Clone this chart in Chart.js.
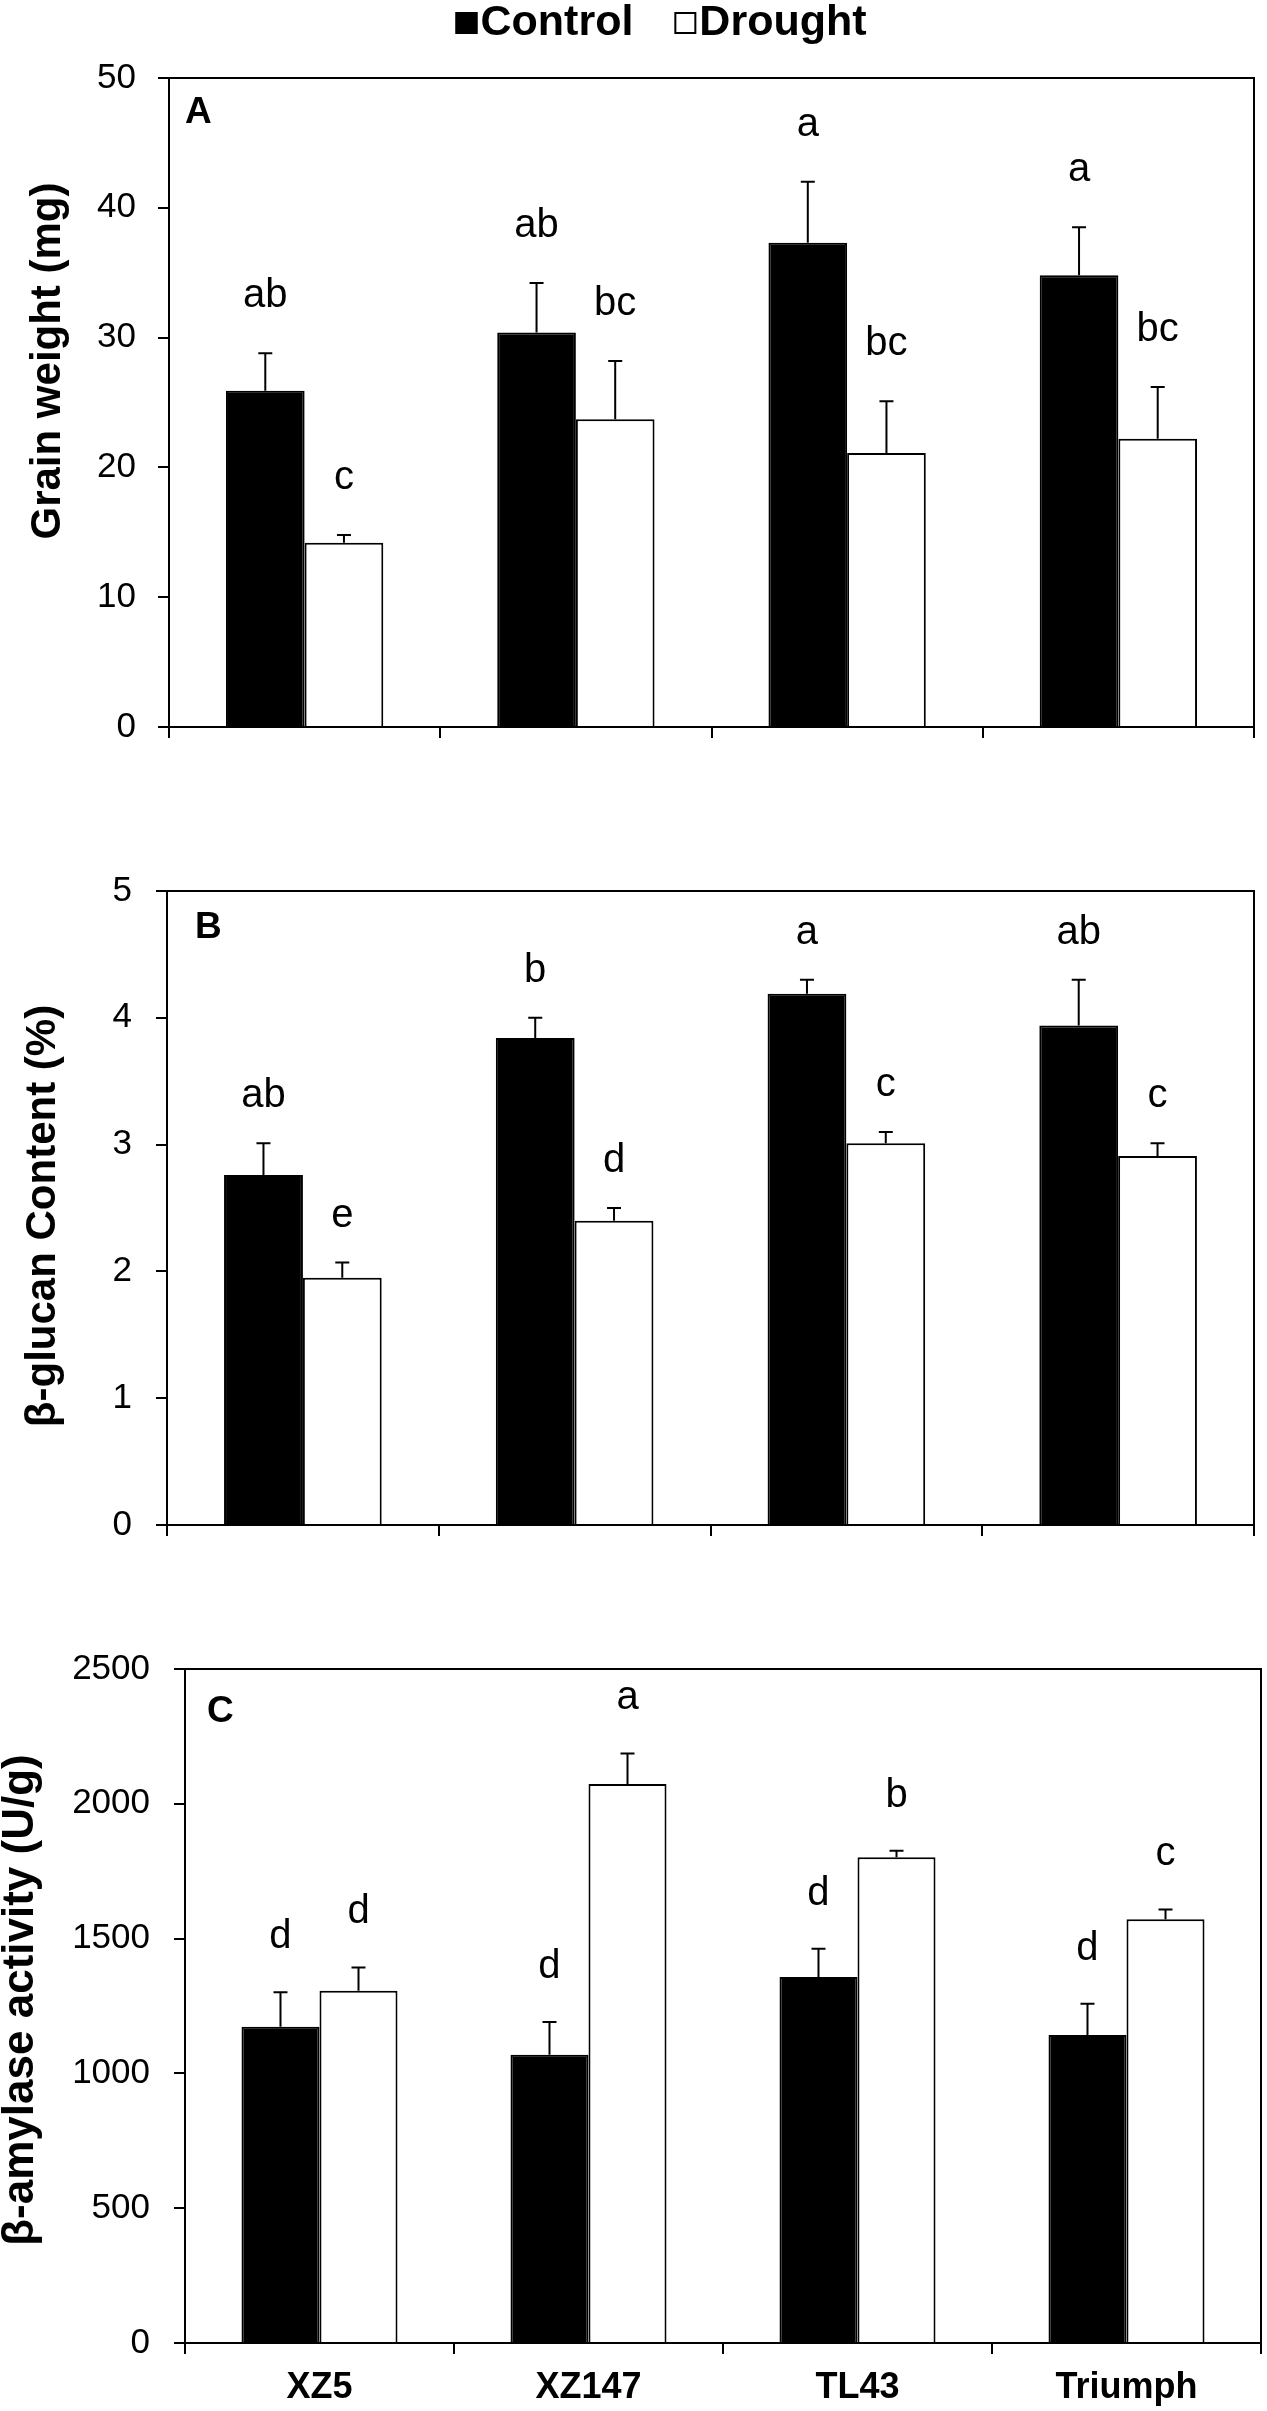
<!DOCTYPE html>
<html>
<head>
<meta charset="utf-8">
<title>Grain weight, β-glucan content and β-amylase activity</title>
<script src="https://cdn.jsdelivr.net/npm/chart.js@4.4.1/dist/chart.umd.min.js"></script>
<style>
    html, body { margin: 0; padding: 0; background: #fff; overflow: hidden; }
    .panel { position: absolute; left: 0; width: 1267px; }
    #panelA { top: 0; height: 770px; }
    #panelB { top: 770px; height: 800px; }
    #panelC { top: 1570px; height: 841px; }
</style>
</head>
<body>
<div class="panel" id="panelA"><canvas id="chartA"></canvas></div>
<div class="panel" id="panelB"><canvas id="chartB"></canvas></div>
<div class="panel" id="panelC"><canvas id="chartC"></canvas></div>
<script>
var varieties = ['XZ5', 'XZ147', 'TL43', 'Triumph'];
var seriesNames = ['Control', 'Drought'];

// A - grain weight (mg)
var weightControl = [25.9, 30.4, 37.3, 34.8];
var weightControlErr = [2.9, 3.8, 4.7, 3.7];
var weightControlSig = ['ab', 'ab', 'a', 'a'];
var weightDrought = [14.2, 23.7, 21.1, 22.2];
var weightDroughtErr = [0.6, 4.5, 4.0, 4.0];
var weightDroughtSig = ['c', 'bc', 'bc', 'bc'];
var weightTicks = [0, 50, 10];

// B - beta-glucan content (%)
var glucanControl = [2.76, 3.84, 4.19, 3.94];
var glucanControlErr = [0.25, 0.16, 0.11, 0.36];
var glucanControlSig = ['ab', 'b', 'a', 'ab'];
var glucanDrought = [1.95, 2.40, 3.01, 2.91];
var glucanDroughtErr = [0.12, 0.10, 0.09, 0.10];
var glucanDroughtSig = ['e', 'd', 'c', 'c'];
var glucanTicks = [0, 5, 1];

// C - beta-amylase activity (U/g)
var amylaseControl = [1173, 1069, 1358, 1142];
var amylaseControlErr = [128, 122, 104, 116];
var amylaseControlSig = ['d', 'd', 'd', 'd'];
var amylaseDrought = [1307, 2073, 1802, 1572];
var amylaseDroughtErr = [86, 114, 24, 36];
var amylaseDroughtSig = ['d', 'a', 'b', 'c'];
var amylaseTicks = [0, 2500, 500];

var FONT = '"Liberation Sans", Arial, sans-serif';
Chart.defaults.font.family = FONT;
Chart.defaults.color = '#000';

function drawLegend(chart, lg) {
    var ctx = chart.ctx,
        items = chart.data.datasets,
        widths, total, x;

    ctx.save();
    ctx.font = 'bold ' + lg.size + 'px ' + FONT;
    widths = items.map(function (ds) {
        return lg.box + lg.gap + ctx.measureText(ds.label).width;
    });
    total = widths.reduce(function (s, w) { return s + w; }, 0) + lg.spacing * (items.length - 1);
    x = lg.center - total / 2;

    items.forEach(function (ds, i) {
        ctx.fillStyle = ds.backgroundColor;
        ctx.fillRect(x, lg.top, lg.box, lg.box);
        ctx.strokeStyle = '#000';
        ctx.lineWidth = 2;
        ctx.strokeRect(x + 1, lg.top + 1, lg.box - 2, lg.box - 2);
        ctx.fillStyle = '#000';
        ctx.textAlign = 'left';
        ctx.textBaseline = 'alphabetic';
        ctx.fillText(ds.label, x + lg.box + lg.gap, lg.baseline);
        x += widths[i] + lg.spacing;
    });
    ctx.restore();
}

// one-sided error bars plus the significance letters above them
var errorBars = {
    id: 'errorBars',
    afterDatasetsDraw: function (chart, args, opts) {
        var ctx = chart.ctx,
            yScale = chart.scales.y;

        ctx.save();
        ctx.strokeStyle = '#000';
        ctx.lineWidth = 2;
        ctx.fillStyle = '#000';
        ctx.font = '40px ' + FONT;
        ctx.textAlign = 'center';
        ctx.textBaseline = 'alphabetic';

        chart.data.datasets.forEach(function (ds, d) {
            chart.getDatasetMeta(d).data.forEach(function (bar, i) {
                var top = yScale.getPixelForValue(ds.data[i] + ds.err[i]);
                ctx.beginPath();
                ctx.moveTo(bar.x, bar.y);
                ctx.lineTo(bar.x, top);
                ctx.moveTo(bar.x - 7, top);
                ctx.lineTo(bar.x + 7, top);
                ctx.stroke();
                ctx.fillText(ds.sig[i], bar.x, top - opts.gap);
            });
        });
        ctx.restore();
    }
};

// frame, panel letter, rotated y title, legend
var decorations = {
    id: 'decorations',
    afterDraw: function (chart, args, o) {
        var ctx = chart.ctx,
            a = chart.chartArea;

        ctx.save();
        ctx.strokeStyle = '#000';
        ctx.lineWidth = 2;
        ctx.strokeRect(a.left, a.top, a.right - a.left, a.bottom - a.top);

        ctx.fillStyle = '#000';
        ctx.font = 'bold 37px ' + FONT;
        ctx.textAlign = 'left';
        ctx.textBaseline = 'alphabetic';
        ctx.fillText(o.letter, a.left + o.letterDx, a.top + o.letterDy);

        ctx.font = 'bold ' + o.titleSize + 'px ' + FONT;
        ctx.translate(o.titleX, o.titleY);
        ctx.rotate(-Math.PI / 2);
        ctx.textAlign = 'center';
        ctx.fillText(o.title, 0, 0);
        ctx.restore();

        if (o.legend) {
            drawLegend(chart, o.legend);
        }
    }
};

function makePanel(id, p) {
    return new Chart(document.getElementById(id), {
        type: 'bar',
        data: {
            labels: varieties,
            datasets: [
                {
                    label: seriesNames[0],
                    data: p.control, err: p.controlErr, sig: p.controlSig,
                    backgroundColor: '#000', borderColor: '#000', borderWidth: 2
                },
                {
                    label: seriesNames[1],
                    data: p.drought, err: p.droughtErr, sig: p.droughtSig,
                    backgroundColor: '#fff', borderColor: '#000', borderWidth: 2
                }
            ]
        },
        options: {
            responsive: true,
            maintainAspectRatio: false,
            animation: false,
            devicePixelRatio: 1,
            categoryPercentage: 0.58,
            barPercentage: 1.0,
            layout: { padding: { top: p.top, right: p.right, bottom: 0, left: 0 } },
            scales: {
                x: {
                    offset: true,
                    grid: {
                        offset: true, drawOnChartArea: false, drawTicks: true,
                        tickLength: 11, color: '#000', lineWidth: 2
                    },
                    border: { display: true, color: '#000', width: 2 },
                    ticks: {
                        display: p.showLabels, maxRotation: 0, padding: 12,
                        font: { size: 36, weight: 'bold' }, color: '#000'
                    },
                    afterFit: function (s) { s.height = p.xHeight; }
                },
                y: {
                    min: p.ticks[0], max: p.ticks[1],
                    grid: {
                        drawOnChartArea: false, drawTicks: true,
                        tickLength: 11, color: '#000', lineWidth: 2
                    },
                    border: { display: true, color: '#000', width: 2 },
                    ticks: {
                        stepSize: p.ticks[2], padding: p.tickPad, font: { size: 35 }, color: '#000',
                        callback: function (value) { return String(value); }
                    },
                    afterFit: function (s) { s.width = p.left; }
                }
            },
            plugins: {
                legend: { display: false },
                tooltip: { enabled: false },
                errorBars: { gap: p.gap },
                decorations: p.deco
            }
        },
        plugins: [errorBars, decorations]
    });
}

makePanel('chartA', {
    control: weightControl, controlErr: weightControlErr, controlSig: weightControlSig,
    drought: weightDrought, droughtErr: weightDroughtErr, droughtSig: weightDroughtSig,
    ticks: weightTicks, top: 78, right: 13, left: 169, xHeight: 28, tickPad: 22,
    showLabels: false, gap: 46,
    deco: {
        letter: 'A', letterDx: 16, letterDy: 45,
        title: 'Grain weight (mg)', titleSize: 42, titleX: 60, titleY: 361,
        legend: { center: 661, top: 12, box: 22, gap: 3, spacing: 41, baseline: 35, size: 43 }
    }
});

makePanel('chartB', {
    control: glucanControl, controlErr: glucanControlErr, controlSig: glucanControlSig,
    drought: glucanDrought, droughtErr: glucanDroughtErr, droughtSig: glucanDroughtSig,
    ticks: glucanTicks, top: 121, right: 13, left: 167, xHeight: 27, tickPad: 24,
    showLabels: false, gap: 36,
    deco: {
        letter: 'B', letterDx: 28, letterDy: 47,
        title: 'β-glucan Content (%)', titleSize: 42, titleX: 55, titleY: 446
    }
});

makePanel('chartC', {
    control: amylaseControl, controlErr: amylaseControlErr, controlSig: amylaseControlSig,
    drought: amylaseDrought, droughtErr: amylaseDroughtErr, droughtSig: amylaseDroughtSig,
    ticks: amylaseTicks, top: 99, right: 6, left: 185, xHeight: 68, tickPad: 24,
    showLabels: true, gap: 44,
    deco: {
        letter: 'C', letterDx: 22, letterDy: 53,
        title: 'β-amylase activity (U/g)', titleSize: 44, titleX: 33, titleY: 430
    }
});
</script>
</body>
</html>
